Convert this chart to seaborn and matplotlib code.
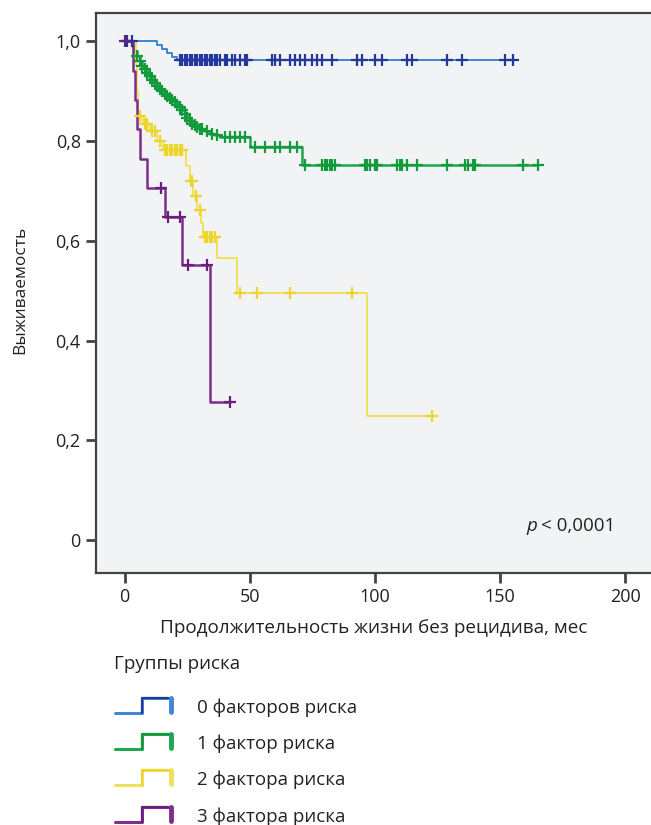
import numpy as np
import pandas as pd
import seaborn as sns
import matplotlib.pyplot as plt
from matplotlib.lines import Line2D

# --- data (months, survival) ---
groups = ["0 факторов риска", "1 фактор риска", "2 фактора риска", "3 фактора риска"]

blue_t = [0, 13, 15, 17, 19, 21]
blue_s = [1.0, 0.992, 0.985, 0.977, 0.969, 0.962]
blue_end = 157
blue_cens = [1, 3, 22, 23, 24, 25, 26, 27, 28, 29, 30, 31, 32, 33, 34, 35, 36, 37, 38, 40,
             41, 43, 44, 46, 48, 49, 59, 60, 62, 66, 68, 70, 72, 75, 77, 79, 83, 93, 95,
             100, 103, 113, 115, 129, 135, 152, 155]

green_t = [0, 3, 4, 5, 6, 7, 8, 9, 10, 11, 12, 13, 14, 15, 16, 17, 18, 19, 20, 21,
           22, 23, 24, 25, 26, 27, 28, 29, 30, 32, 34, 36, 38, 50, 71]
green_s = [1.0, 0.99, 0.98, 0.97, 0.96, 0.95, 0.945, 0.936, 0.93, 0.923, 0.916, 0.91, 0.905, 0.9, 0.895, 0.89, 0.886, 0.883, 0.878, 0.873,
           0.869, 0.862, 0.855, 0.846, 0.84, 0.835, 0.832, 0.828, 0.824, 0.82, 0.815, 0.812, 0.809, 0.789, 0.752]
green_end = 165
green_cens = [5, 6, 7, 8, 9, 10, 11, 12, 13, 14, 15, 16, 17, 18, 19, 20, 21, 22, 23, 24,
              25, 26, 27, 28, 29, 30, 31, 33, 35, 37, 40, 42, 44, 46, 48, 52, 56, 60, 62,
              66, 69, 72, 79, 80, 81, 82, 83, 84, 96, 97, 98, 100, 101, 109, 110, 111, 113,
              117, 129, 136, 137, 139, 140, 159, 165]

yellow_t = [0, 4.5, 5, 5.5, 7.5, 10, 13, 15.5, 24.5, 26, 27.5, 29, 30.5, 31.5, 37, 45, 97]
yellow_s = [1.0, 0.95, 0.90, 0.85, 0.835, 0.82, 0.8, 0.782, 0.75, 0.72, 0.69, 0.662, 0.635, 0.608, 0.565, 0.495, 0.248]
yellow_end = 123
yellow_cens = [6, 8, 9, 11, 12, 14, 16, 17, 18, 19, 20, 21, 22, 23, 26.5, 27, 28.5, 30,
               32, 33, 34, 35, 36, 46, 53, 66, 91, 123]

purple_t = [0, 3.5, 4.2, 4.9, 6.2, 8.9, 16.2, 22.9, 34.2]
purple_s = [1.0, 0.941, 0.882, 0.824, 0.765, 0.706, 0.647, 0.552, 0.276]
purple_end = 42
purple_cens = [0, 14.5, 17.5, 22, 25.5, 32.8, 42]

line_colors = ["#3f87d0", "#1fa650", "#f0e15a", "#7e2d8e"]
mark_colors = ["#22389a", "#129a3c", "#ecd52e", "#6a1f7e"]

curves = [(blue_t, blue_s, blue_end, blue_cens),
          (green_t, green_s, green_end, green_cens),
          (yellow_t, yellow_s, yellow_end, yellow_cens),
          (purple_t, purple_s, purple_end, purple_cens)]

# build long tables for seaborn
step_rows = []
cens_rows = []
for g, (t, s, end, cens) in zip(groups, curves):
    for ti, si in zip(t, s):
        step_rows.append((g, ti, si))
    step_rows.append((g, end, s[-1]))
    idx = np.searchsorted(t, cens, side="right") - 1
    for c, i in zip(cens, idx):
        cens_rows.append((g, c, s[i]))
steps = pd.DataFrame(step_rows, columns=["group", "time", "surv"])
marks = pd.DataFrame(cens_rows, columns=["group", "time", "surv"])

sns.set_style("ticks")
plt.rcParams["font.family"] = ["Open Sans", "DejaVu Sans"]
txt = "#222222"

fig = plt.figure(figsize=(6.51, 8.25), dpi=100)
ax = fig.add_axes([96 / 651, 1 - 573 / 825, 555 / 651, 560 / 825])
ax.set_facecolor("#f1f3f4")

lws = [1.4, 1.8, 1.4, 1.8]
for g, lc, mc, lw in zip(groups, line_colors, mark_colors, lws):
    sns.lineplot(data=steps[steps.group == g], x="time", y="surv", color=lc,
                 drawstyle="steps-post", estimator=None, sort=False, lw=lw, ax=ax)
    sns.scatterplot(data=marks[marks.group == g], x="time", y="surv", color=mc,
                    marker="+", s=70, linewidth=1.6, ax=ax, zorder=3)

ax.set_xlim(-11.4, 210.3)
ax.set_ylim(-0.066, 1.057)
ax.set_xticks([0, 50, 100, 150, 200])
ax.set_yticks([0, 0.2, 0.4, 0.6, 0.8, 1.0])
ax.set_yticklabels(["0", "0,2", "0,4", "0,6", "0,8", "1,0"])
ax.tick_params(axis="both", length=7, width=2, color="#444444", labelsize=13,
               labelcolor=txt, pad=4)
for side in ["left", "bottom", "top"]:
    ax.spines[side].set_color("#444444")
    ax.spines[side].set_linewidth(1.6)
ax.spines["right"].set_visible(False)

ax.set_xlabel("Продолжительность жизни без рецидива, мес", fontsize=13.6, color=txt)
ax.xaxis.set_label_coords(0.5, -0.082)
ax.set_ylabel("Выживаемость", fontsize=12.5, color=txt)
ax.yaxis.set_label_coords(-0.122, 0.505)

ax.text(160.6, 0.028, "p", ha="left", va="center", fontsize=13.5, style="italic", color=txt)
ax.text(166.5, 0.028, "< 0,0001", ha="left", va="center", fontsize=13.5, color=txt)

# legend block under the plot
def fx(px):
    return px / 651

def fy(py):
    return 1 - py / 825

fig.text(fx(114), fy(664), "Группы риска", fontsize=13.5, va="center", color=txt)
row_y = [708, 744, 780, 817]
for g, lc, mc, y in zip(groups, line_colors, mark_colors, row_y):
    fig.add_artist(Line2D([fx(115), fx(142), fx(142), fx(170)],
                          [fy(y + 5), fy(y + 5), fy(y - 10), fy(y - 10)],
                          color=lc, lw=2.2, transform=fig.transFigure))
    fig.add_artist(Line2D([fx(142), fx(142), fx(168)],
                          [fy(y + 5), fy(y - 10), fy(y - 10)],
                          color=mc, lw=1.6, transform=fig.transFigure))
    fig.add_artist(Line2D([fx(171), fx(171)], [fy(y - 10), fy(y + 4)],
                          color=lc, lw=3.5, transform=fig.transFigure))
    fig.text(fx(197), fy(y), g, fontsize=13.5, va="center", color=txt)

fig.savefig("out.png", dpi=100, facecolor="white")
